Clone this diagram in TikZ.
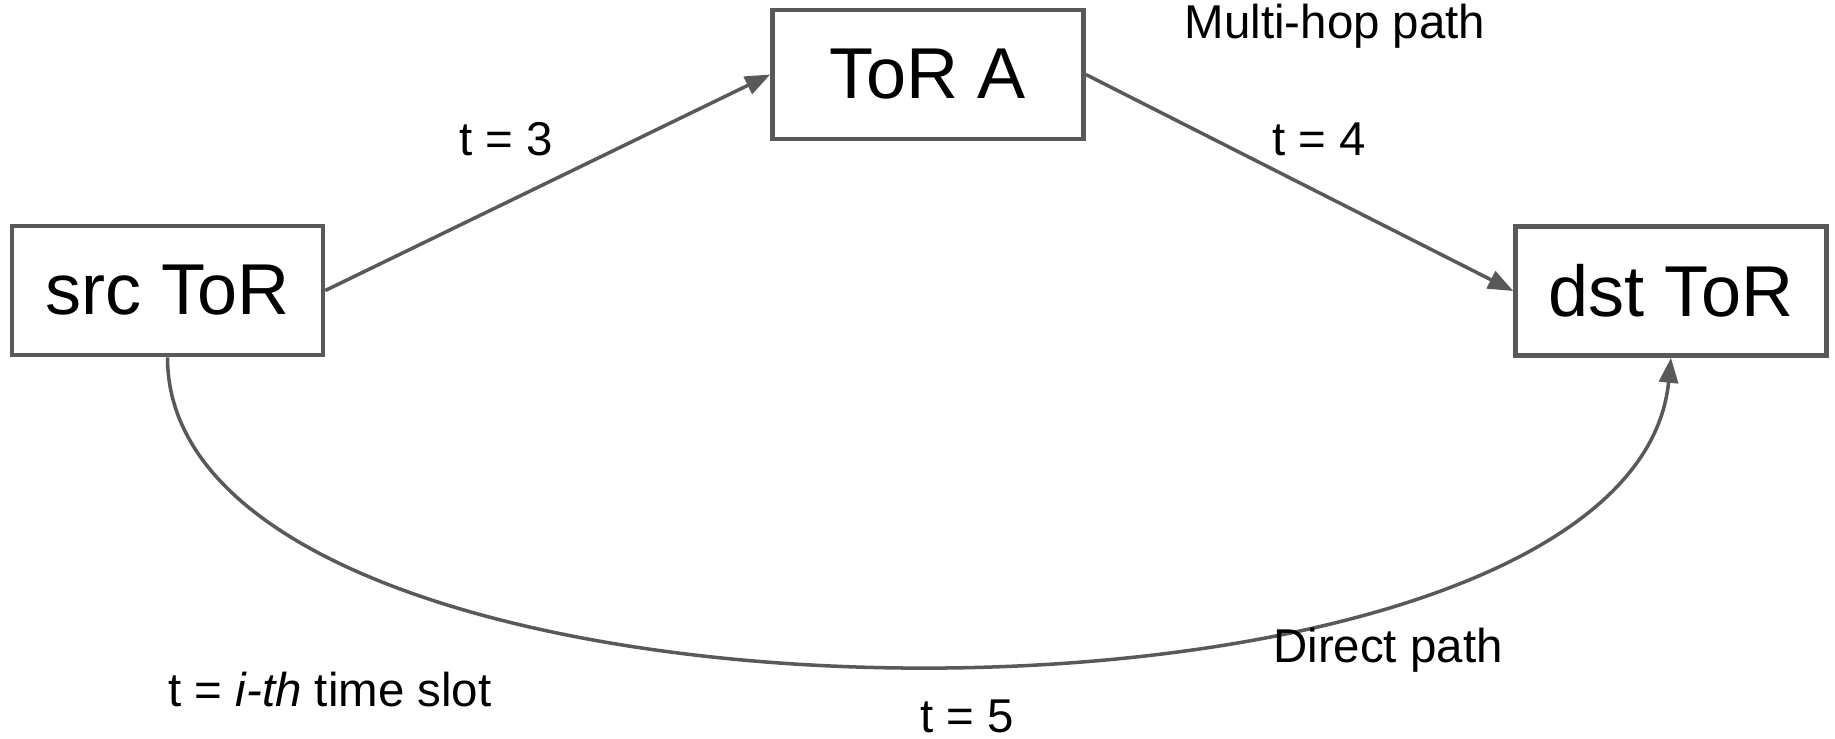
\documentclass[tikz,border=0pt]{standalone}
\usepackage{fontspec}
\setmainfont{Liberation Sans}
\usetikzlibrary{arrows.meta}

\definecolor{linegray}{HTML}{595959}

\tikzset{
    tor/.style={draw=linegray, line width=1.3pt, minimum width=3.11cm, minimum height=1.29cm,
        font=\fontsize{20.5}{24}\selectfont},
    link/.style={draw=linegray, line width=1pt, -{Triangle[length=2.5mm,width=1.9mm]}},
    lbl/.style={font=\fontsize{13.5}{16}\selectfont}
}

\begin{document}
\begin{tikzpicture}
        \useasboundingbox (0,0) rectangle (18.35,7.38);

        % Draw the ToR boxes
        \node[tor] (src) at (1.675,4.475) {src ToR};
        \node[tor] (tora) at (9.28,6.635) {ToR A};
        \node[tor] (dst) at (16.71,4.47) {dst ToR};

        % Multi-hop path through ToR A
        \draw[link] (src.east) -- (tora.west);
        \draw[link] (tora.east) -- (dst.west);

        % Direct path below
        \draw[link] (src.south) .. controls (1.675,-0.27) and (16.3,-0.32) .. (dst.south);

        % Add the labels
        \node[lbl] (t3) at (5.06,5.99) {t = 3};
        \node[lbl] (t4) at (13.19,5.99) {t = 4};
        \node[lbl] (multihop) at (13.35,7.12) {Multi-hop path};
        \node[lbl] (direct) at (13.88,0.88) {Direct path};
        \node[lbl] (t5) at (9.67,0.22) {t = 5};
        \node[lbl] (slot) at (3.30,0.48) {t = \textit{i-th} time slot};
    \end{tikzpicture}
\end{document}
